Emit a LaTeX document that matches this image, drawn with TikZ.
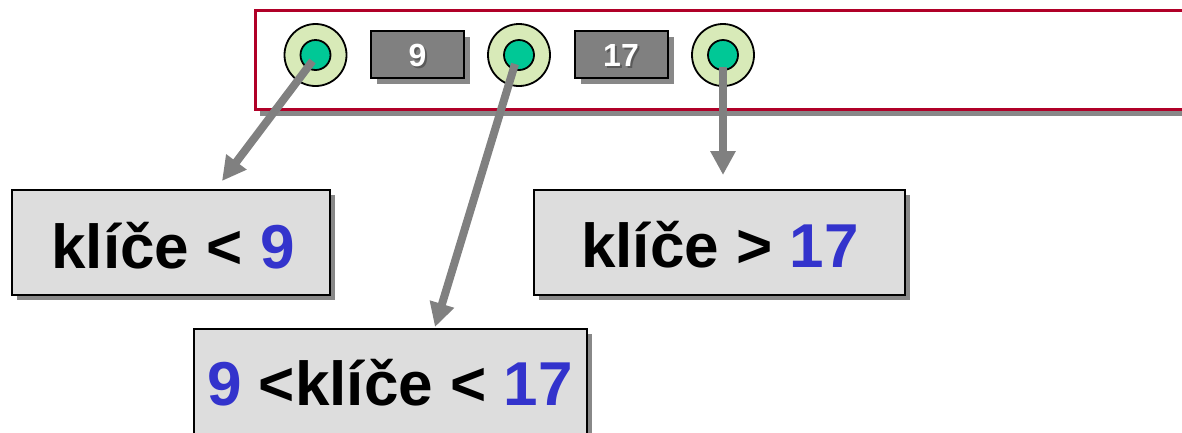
\documentclass[tikz,border=0pt]{standalone}
\usepackage{fontspec}
\setmainfont{Liberation Sans}
\usetikzlibrary{arrows.meta,shadows}
\definecolor{framered}{RGB}{176,0,40}
\definecolor{shadowgray}{RGB}{136,136,136}
\definecolor{keygray}{RGB}{128,128,128}
\definecolor{ringgreen}{RGB}{216,234,184}
\definecolor{coreteal}{RGB}{0,200,150}
\definecolor{boxfill}{RGB}{221,221,221}
\definecolor{numblue}{RGB}{51,51,204}
\definecolor{numshade}{RGB}{90,90,90}
\definecolor{arrowgray}{RGB}{128,128,128}
% text with an offset copy underneath it (#1 shade offset, #2 shade copy, #3 text)
\newcommand\withshade[3]{\makebox[0pt][l]{\kern#1\raisebox{-#1}{#2}}#3}
\begin{document}
\begin{tikzpicture}[x=1pt,y=-1pt,
  nodeframe/.style={draw=framered, line width=3pt, fill=white, anchor=north west,
    inner sep=0pt, minimum width=960pt, minimum height=99pt,
    general shadow={fill=shadowgray, draw=none, shadow xshift=4pt, shadow yshift=-6pt}},
  ring/.style={circle, draw=black, line width=1.8pt, fill=ringgreen, minimum size=62pt, inner sep=0pt},
  core/.style={circle, draw=black, line width=1.8pt, fill=coreteal, minimum size=30pt, inner sep=0pt},
  keybox/.style={draw=black, line width=2pt, fill=keygray, minimum width=93pt, minimum height=47pt,
    inner sep=0pt, general shadow={fill=shadowgray, draw=none, shadow xshift=6pt, shadow yshift=-6pt}},
  keytext/.style={anchor=base, inner sep=0pt, text=white,
    font=\fontsize{32}{32}\selectfont\bfseries},
  rangebox/.style={draw=black, line width=2pt, fill=boxfill, inner sep=0pt,
    general shadow={fill=shadowgray, draw=none, shadow xshift=5pt, shadow yshift=-5pt}},
  rangetext/.style={anchor=base, inner sep=0pt, text=black,
    font=\fontsize{62}{62}\selectfont\bfseries},
  pointer/.style={draw=arrowgray, line width=8pt, -{Triangle[width=24pt,length=24pt]}}
]
\useasboundingbox (0,0) rectangle (1182,432);
\clip (0,0) rectangle (1182,432);

% B-tree node with two keys and three child pointers
\node[nodeframe] (page) at (254,9) {};

\node[ring] (r1) at (315.5,55) {};
\node[core] (p1) at (315.5,55) {};
\node[ring] (r2) at (519,55) {};
\node[core] (p2) at (519,55) {};
\node[ring] (r3) at (723,55) {};
\node[core] (p3) at (723,55) {};

\node[keybox] (k1) at (417.5,54.5) {};
\node[keytext] (k1t) at (417.5,66) {\withshade{2pt}{\color{numshade}9}{9}};
\node[keybox] (k2) at (621,54.5) {};
\node[keytext] (k2t) at (621,66) {\withshade{2pt}{\color{numshade}17}{17}};

% key ranges of the subtrees
\node[rangebox, minimum width=318pt, minimum height=105pt] (lo) at (171,242.5) {};
\node[rangetext] (lot) at (173,268) {klíče < \textcolor{numblue}{9}};

\node[rangebox, minimum width=371pt, minimum height=105pt] (hi) at (719.5,242.5) {};
\node[rangetext] (hit) at (720,267) {klíče > \textcolor{numblue}{17}};

\node[rangebox, minimum width=393pt, minimum height=121pt] (mid) at (390.5,389.5) {};
\node[rangetext] (midt) at (390,405)
  {\textcolor{numblue}{9} <klíče < \textcolor{numblue}{17}};

% child pointers
\coordinate (e1) at (222,181);
\coordinate (e2) at (435,327);
\coordinate (e3) at (723,175);
\draw[pointer] ([xshift=-3pt,yshift=-6pt]p1.center) -- (e1);
\draw[pointer] ([xshift=-4pt,yshift=-9pt]p2.center) -- (e2);
\draw[pointer] ([yshift=-12pt]p3.center) -- (e3);
\end{tikzpicture}
\end{document}
